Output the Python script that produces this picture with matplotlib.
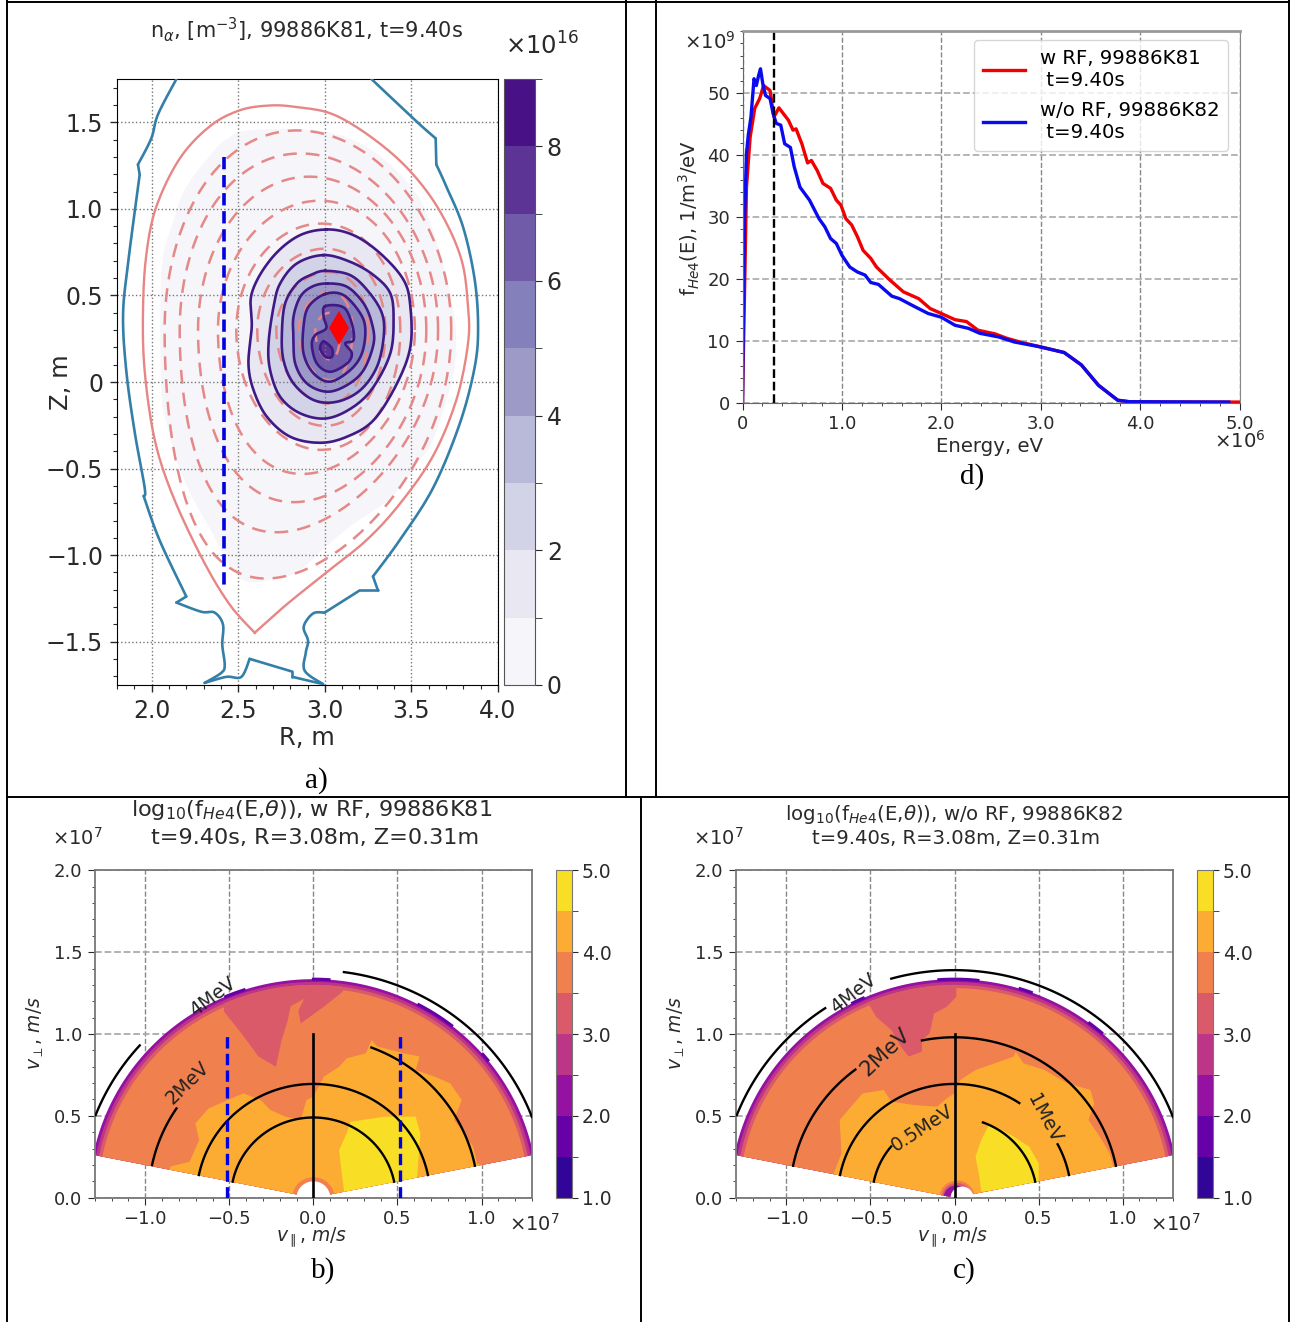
import numpy as np
import matplotlib
matplotlib.use("Agg")
import matplotlib.pyplot as plt
from matplotlib.colors import ListedColormap, BoundaryNorm
from matplotlib.cm import ScalarMappable
from matplotlib.lines import Line2D
from matplotlib.patches import Polygon
from matplotlib.ticker import MultipleLocator

# ---------------- panel a data (R, Z in metres) ----------------
wall_R = [2.143,2.037,1.998,1.921,1.931,1.864,1.835,1.854,1.902,1.960,1.954,2.046,2.200,2.143,2.287,2.364,2.412,2.408,2.422,2.402,2.306,2.431,2.518,2.566,2.813,2.813,2.990,2.884,2.890,2.903,2.878,2.932,2.999,3.201,3.307,3.278,3.432,3.625,3.779,3.865,3.885,3.865,3.798,3.702,3.644,3.640,3.548,3.375,3.269]
wall_Z = [1.75,1.546,1.407,1.256,1.198,.687,.385,.061,-.288,-.612,-.659,-.914,-1.239,-1.274,-1.327,-1.332,-1.401,-1.518,-1.634,-1.680,-1.738,-1.703,-1.703,-1.599,-1.673,-1.703,-1.745,-1.668,-1.564,-1.494,-1.413,-1.337,-1.332,-1.204,-1.204,-1.123,-.914,-.612,-.241,.084,.316,.594,.896,1.128,1.256,1.407,1.488,1.650,1.75]
wall_corners = [0,3,4,10,12,13,20,23,24,25,26,32,33,34,35,44,45,48]
sep_R = [2.595,2.778,3.009,3.240,3.432,3.625,3.760,3.827,3.827,3.788,3.663,3.490,3.278,3.047,2.836,2.682,2.508,2.335,2.162,2.027,1.969,1.950,1.960,2.018,2.123,2.297,2.451,2.595]
sep_Z = [-1.448,-1.286,-1.100,-.914,-.705,-.427,-.102,.223,.432,.710,.989,1.221,1.407,1.546,1.588,1.597,1.569,1.476,1.290,1.012,.733,.408,.061,-.334,-.659,-1.030,-1.286,-1.448]
fill_R = [2.547,2.951,3.240,3.500,3.625,3.740,3.750,3.625,3.548,3.394,3.163,3.009,2.855,2.720,2.508,2.335,2.220,2.143,2.095,2.056,2.056,2.123,2.200,2.374,2.441]
fill_Z = [1.453,1.453,1.360,1.128,.873,.432,.084,-.334,-.450,-.659,-.821,-.949,-1.088,-1.135,-1.135,-.844,-.636,-.450,-.264,-.056,.641,.919,1.128,1.349,1.407]
ring1_R = [3.008,3.166,3.320,3.455,3.494,3.494,3.417,3.282,3.128,2.973,2.800,2.665,2.588,2.559,2.578,2.578,2.684,2.839]
ring1_Z = [.881,.848,.743,.589,.435,.204,-.008,-.220,-.316,-.351,-.316,-.200,-.046,.107,.319,.512,.704,.839]
ring2_R = [2.993,3.147,3.282,3.378,3.397,3.378,3.282,3.166,3.012,2.858,2.742,2.684,2.675,2.704,2.742,2.839]
ring2_Z = [.733,.694,.617,.512,.358,.165,-.027,-.143,-.210,-.181,-.085,.069,.223,.435,.569,.685]
ring3_R = [3.002,3.147,3.253,3.330,3.340,3.301,3.205,3.070,2.935,2.819,2.761,2.752,2.771,2.839,2.916]
ring3_Z = [.642,.617,.521,.396,.261,.088,-.047,-.114,-.104,-.008,.127,.281,.454,.569,.617]
ring4_R = [3.012,3.128,3.224,3.272,3.282,3.224,3.128,3.012,2.896,2.829,2.819,2.819,2.858,2.925]
ring4_Z = [.569,.550,.454,.338,.223,.069,-.018,-.056,-.008,.107,.261,.377,.492,.550]
ring5_R = [3.002,3.108,3.205,3.234,3.214,3.147,3.031,2.935,2.877,2.877,2.906]
ring5_Z = [.508,.502,.396,.300,.165,.069,.002,.050,.165,.319,.435]
ring6_R = [3.002,3.108,3.156,3.166,3.118,3.156,3.128,3.031,2.954,2.925,2.945,3.008,2.993]
ring6_Z = [.438,.431,.338,.242,.223,.165,.107,.059,.107,.213,.271,.310,.377]
ring7_R = [2.993,3.041,3.041,3.002,2.973]
ring7_Z = [.233,.194,.146,.146,.194]
surf_R_in  = [2.075,2.162,2.268,2.383,2.489,2.61,2.72,2.85,2.945]
surf_R_out = [3.73,3.654,3.586,3.52,3.436,3.35,3.25,3.16,3.09]
surf_Z_top = [1.453,1.32,1.186,1.047,.915,.77,.635,.52,.40]
surf_Z_bot = [-1.135,-.868,-.694,-.531,-.392,-.253,-.125,.01,.13]
surf_R_top = [2.84,2.86,2.91,2.97,2.98,3.0,3.02,3.03,3.03]
surf_R_bot = [2.66,2.72,2.82,2.87,2.98,3.0,3.02,3.03,3.03]
Z_mid = 0.30
chord_R = 2.415
chord_Z = [1.30, -1.20]
point_R, point_Z = 3.08, 0.31

# ---------------- panel d data (E in 1e6 eV, f in 1e9) ----------------
red_E = [0,.04,.077,.123,.173,.212,.277,.316,.366,.462,.508,.539,.597,.655,.693,.751,.809,.886,.944,.99,1.04,1.098,1.156,1.213,1.29,1.348,1.483,1.618,1.772,1.888,2.0,2.138,2.253,2.369,2.542,2.658,2.812,3.005,3.236,3.409,3.582,3.775,3.89,4.276,5.0]
red_f = [0,34.8,42.9,47.5,49.1,51.2,50.4,46.1,47.6,45.6,44,44.2,41.8,38.7,39.1,37.5,35.4,34.6,32.7,31.9,29.7,28.7,26.8,24.6,23.3,21.9,19.8,17.9,16.8,15.2,14.4,13.4,13.1,11.7,11.1,10.4,9.7,9.0,8.1,6.1,2.8,.4,.16,.1,.1]
blue_E = [0,.02,.04,.058,.085,.116,.139,.162,.181,.204,.231,.277,.308,.339,.385,.424,.482,.52,.578,.674,.77,.828,.886,.944,1.0,1.079,1.156,1.233,1.29,1.367,1.502,1.579,1.733,1.868,2.0,2.138,2.273,2.388,2.581,2.735,2.966,3.236,3.409,3.582,3.775,3.89,4.892]
blue_f = [0,29.5,40.2,43.2,46.1,52.3,51.2,52.8,53.9,51.5,49.6,49.1,46.7,45.1,44.8,41.8,41.2,38.1,34.8,32.7,29.7,28.4,26.5,25.7,23.8,21.9,21.1,20.6,19.4,19.1,17.2,16.8,15.5,14.4,13.8,12.5,12.0,11.2,10.6,9.8,9.1,8.1,6.1,2.8,.4,.16,.1]
E_marker = 0.316

# ---------------- panels b, c data (v in 1e7 m/s) ----------------
fan_radius = 1.335
fan_cut_deg = 11.3
b_pink_x = [-.54,-.531,-.428,-.326,-.223,-.189,-.155,-.135,-.055,-.09,-.075,.062,.175,.19,-.54]
b_pink_y = [1.32,1.136,1.004,.862,.800,.963,1.075,1.17,1.215,1.14,1.065,1.167,1.259,1.40,1.40]
b_orange_x = [-.85,-.736,-.679,-.702,-.622,-.531,-.417,-.314,-.257,-.166,-.075,-.041,0,.062,.153,.198,.312,.346,.380,.540,.631,.608,.722,.813,.882,.836,.882,.950,.973,1.018,1.05,-.9]
b_orange_y = [.19,.22,.352,.454,.546,.587,.637,.597,.536,.495,.475,.597,.617,.739,.800,.851,.882,.963,.923,.882,.862,.780,.739,.699,.597,.475,.413,.312,.210,.19,-.05,-.05]
b_yellow_x = [.221,.426,.608,.636,.62,.61,.187,.171,.153,.198]
b_yellow_y = [.464,.495,.495,.393,.169,.05,.006,.128,.291,.393]
c_pink_x = [-.513,-.467,-.376,-.319,-.273,-.194,-.194,-.148,-.121,-.046,.011,.011,.011,-.52]
c_pink_y = [1.187,1.106,1.024,.923,.862,.892,.963,1.004,1.126,1.167,1.228,1.33,1.41,1.41]
c_orange_x = [-.718,-.672,-.683,-.547,-.421,-.376,-.239,-.103,-.046,0,.034,.125,.239,.353,.364,.41,.535,.672,.809,.831,.797,.877,.923,.945,1.014,1.05,-.8]
c_orange_y = [.149,.271,.475,.637,.658,.587,.566,.556,.607,.637,.719,.78,.821,.862,.892,.821,.78,.699,.658,.576,.475,.352,.271,.19,.19,-.05,-.05]
c_yellow_x = [.159,.125,.148,.159,.501,.501,.444,.353,.262,.205]
c_yellow_y = [.352,.25,.128,.037,.08,.21,.312,.373,.424,.444]
b_spot_from = [108,86,52,39]
b_spot_to = [113,90,62,41]
c_spot_from = [114,84,70,49]
c_spot_to = [117,94,73,53]
rim_radii = [1.335,1.318,1.30,1.28]
rim_bands = [2,3,4,5]
b_arcs = [(.49,11.5,168.5),(.695,11.5,168.5),(.98,11.5,69.4),(.98,146.2,168.2),(1.39,20.8,82.5),(1.39,138,158.7)]
c_arcs = [(.49,140.3,168.5),(.49,11.5,69.8),(.695,56.3,168.5),(.695,11.5,28),(.98,11.5,101.4),(.98,127,168.5),(1.39,20.8,105.7),(1.39,123.6,158.7)]
b_chords = [-.515,.517]

density_levels = list(range(0,10))
log_levels = [1,1.5,2,2.5,3,3.5,4,4.5,5]

W,H = 1301,1322
fig = plt.figure(figsize=(W/100,H/100),dpi=100,facecolor="white")
TXT = "#2a2a2a"

def axpx(x0,y0,x1,y1):
    return fig.add_axes([x0/W,1-y1/H,(x1-x0)/W,(y1-y0)/H])
def ftext(x,y,s,**k):
    k.setdefault("ha","center");k.setdefault("va","center");k.setdefault("color",TXT)
    return fig.text(x/W,1-y/H,s,**k)

def smooth(x,y,closed=True,n=10):
    p=np.column_stack([x,y]).astype(float)
    if closed:
        P=np.vstack([p[-1],p,p[0],p[1]])
    else:
        P=np.vstack([p[0],p,p[-1]])
    out=[]
    t=np.linspace(0,1,n,endpoint=False)[:,None]
    for i in range(1,len(P)-2):
        a,b,c,d=P[i-1],P[i],P[i+1],P[i+2]
        out.append(.5*((2*b)+(-a+c)*t+(2*a-5*b+4*c-d)*t**2+(-a+3*b-3*c+d)*t**3))
    out=np.vstack(out+[P[-2][None,:]])
    return out[:,0],out[:,1]

def surface(Rin,Rout,Ztop,Zbot,Rtop,Rbot):
    Rc=.5*(Rin+Rout);a=.5*(Rout-Rin)
    t=np.linspace(0,np.pi,80)
    du=np.arcsin(np.clip((Rc-Rtop)/a,-.95,.95));dl=np.arcsin(np.clip((Rc-Rbot)/a,-.95,.95))
    Ru=Rc+a*np.cos(t+du*np.sin(t));Zu=Z_mid+(Ztop-Z_mid)*np.sin(t)
    Rl=Rc+a*np.cos(t+dl*np.sin(t));Zl=Z_mid+(Zbot-Z_mid)*np.sin(t)
    return np.r_[Ru,Rl[::-1]],np.r_[Zu,Zl[::-1]]

# ---- lines of the surrounding table ----
for (x0,y0,x1,y1) in [(7,2,1289,2),(7,796.5,1289,796.5),(7,0,7,1322),(1289,0,1289,1322),(626,0,626,797),(656,0,656,797),(641,797,641,1322)]:
    fig.add_artist(Line2D([x0/W,x1/W],[1-y0/H,1-y1/H],color="black",lw=1.4,transform=fig.transFigure))

# ---- panel a ----
ax=axpx(117,79,498,685)
ax.set_xlim(1.8,4.0);ax.set_ylim(-1.75,1.75)
n=len(density_levels)-1
dcols=[plt.get_cmap("Purples")((i+.5)/n) for i in range(n)]
ax.grid(True,which="major",color="#777",ls=":",lw=1)
fx,fy=smooth(fill_R,fill_Z,n=4)
ax.fill(fx,fy,color=dcols[0],lw=0,zorder=1)
rings=[(ring1_R,ring1_Z),(ring2_R,ring2_Z),(ring3_R,ring3_Z),(ring4_R,ring4_Z),(ring5_R,ring5_Z),(ring6_R,ring6_Z),(ring7_R,ring7_Z)]
for i,(rx,rz) in enumerate(rings):
    sx,sz=smooth(rx,rz)
    ax.fill(sx,sz,color=dcols[i+1],lw=0,zorder=1.1+i*.01)
for v in zip(surf_R_in,surf_R_out,surf_Z_top,surf_Z_bot,surf_R_top,surf_R_bot):
    sx,sz=surface(*v)
    ax.plot(sx,sz,color="#e58888",lw=1.8,dashes=(5.5,3.6),zorder=2.6)
for rx,rz in rings:
    sx,sz=smooth(rx,rz)
    ax.plot(sx,sz,color="#3f1a85",lw=1.9,zorder=3)
for i0,i1 in zip(wall_corners[:-1],wall_corners[1:]):
    sx,sz=smooth(wall_R[i0:i1+1],wall_Z[i0:i1+1],closed=False)
    ax.plot(sx,sz,color="#347fa8",lw=1.9,zorder=3,solid_capstyle="round")
sx,sz=smooth(sep_R,sep_Z,closed=False)
ax.plot(sx,sz,color="#e88585",lw=1.7,zorder=3)
ax.plot([chord_R,chord_R],chord_Z,color="#0000e0",lw=2.6,dashes=(3.4,1.6),zorder=4)
ax.plot([point_R],[point_Z],marker="d",color="red",ms=17,mew=0,zorder=5)
ax.set_xticks([2,2.5,3,3.5,4]);ax.set_yticks([-1.5,-1,-.5,0,.5,1,1.5])
ax.set_yticklabels(["\u22121.5","\u22121.0","\u22120.5","0","0.5","1.0","1.5"])
ax.set_xticklabels(["2.0","2.5","3.0","3.5","4.0"])
ax.xaxis.set_minor_locator(MultipleLocator(.1));ax.yaxis.set_minor_locator(MultipleLocator(.1))
ax.tick_params(which="major",labelsize=17,length=5,width=1,colors=TXT,pad=5)
ax.tick_params(which="minor",length=3,width=.8,colors=TXT)
cax=axpx(504,79,535,685)
cb=fig.colorbar(ScalarMappable(BoundaryNorm(density_levels,n),ListedColormap(dcols)),cax=cax,ticks=[0,2,4,6,8],drawedges=False)
cb.ax.minorticks_off()
cb.ax.set_yticks(range(1,10,2),minor=True)
cb.ax.set_yticklabels(["0","2","4","6","8"])
cb.ax.tick_params(which="major",labelsize=17,length=5,colors=TXT)
cb.ax.tick_params(which="minor",length=5,colors=TXT)
cb.outline.set_edgecolor("#555")
ftext(307,30,r"n$_{\alpha}$, [m$^{-3}$], 99886K81, t=9.40s",fontsize=15)
ftext(542,46,r"$\times$10$^{16}$",fontsize=17.5)
ftext(307,738,"R, m",fontsize=17.5)
ftext(61,382,"Z, m",fontsize=17.5,rotation=90)

# ---- panel d ----
ax=axpx(742.5,31,1239.5,402.7)
ax.set_xlim(0,5);ax.set_ylim(0,60)
ax.xaxis.grid(True,which="major",color="#888",ls="--",lw=1)
ax.yaxis.grid(True,which="major",color="#b0b0b0",ls="--",lw=1.3)
ax.plot(red_E,red_f,color="#f00000",lw=2.4,label="w RF, 99886K81\n t=9.40s")
ax.plot(blue_E,blue_f,color="#0a0af0",lw=2.4,label="w/o RF, 99886K82\n t=9.40s")
ax.axvline(E_marker,color="black",ls="--",lw=1.7)
ax.set_xticks([0,1,2,3,4,5]);ax.set_xticklabels(["0","1.0","2.0","3.0","4.0","5.0"])
ax.set_yticks([0,10,20,30,40,50]);ax.set_yticklabels(["0","10","20","30","40","50"])
ax.xaxis.set_minor_locator(MultipleLocator(.2));ax.yaxis.set_minor_locator(MultipleLocator(2))
ax.tick_params(which="major",labelsize=13,length=5,colors=TXT,pad=4)
ax.tick_params(which="minor",length=2.5,colors=TXT)
for s in ax.spines.values(): s.set_color("#666")
ax.spines["top"].set_color("#999");ax.spines["top"].set_linewidth(2)
ax.spines["right"].set_color("#888")
ax.legend(loc="upper right",bbox_to_anchor=(.977,.976),fontsize=14.2,framealpha=.8,borderaxespad=0,handlelength=2.1,labelspacing=.55,borderpad=.45,handletextpad=.75)
ftext(990,446,"Energy, eV",fontsize=14.2)
ftext(689,218,r"f$_{He4}$(E), 1/m$^3$/eV",fontsize=14,rotation=90)
ftext(710,42,r"$\times$10$^{9}$",fontsize=14.2)
ftext(1240,441,r"$\times$10$^{6}$",fontsize=14.2)

# ---- panels b, c ----
m=len(log_levels)-1
pcols=[plt.get_cmap("plasma")((i+.5)/m) for i in range(m)]

def fan_poly(r):
    th=np.radians(np.linspace(fan_cut_deg,180-fan_cut_deg,200))
    return np.c_[r*np.cos(th),r*np.sin(th)]

def arc(ax,r,a,b,**k):
    th=np.radians(np.linspace(a,b,120))
    ax.plot(r*np.cos(th),r*np.sin(th),**k)

def panel(box,cbox,pink,orange,yellow,spots,arcs,labels,chords,hole):
    ax=axpx(*box)
    ax.set_xlim(-1.3,1.3);ax.set_ylim(0,2)
    ax.xaxis.grid(True,which="major",color="#888",ls="--",lw=1,zorder=0)
    ax.yaxis.grid(True,which="major",color="#aaa",ls="--",lw=1.3,zorder=0)
    ax.set_axisbelow(True)
    clip=Polygon(np.vstack([fan_poly(rim_radii[-2]),[[0,0]]]),transform=ax.transData)
    clip_low=Polygon(np.vstack([fan_poly(fan_radius),[[0,0]]]),transform=ax.transData)
    for r,i in zip(rim_radii,rim_bands):
        p=np.vstack([fan_poly(r),[[0,0]]])
        ax.fill(p[:,0],p[:,1],color=pcols[i],lw=0,zorder=1)
    for (xs,ys),i in zip([pink,orange,yellow],[4,6,7]):
        h,=ax.fill(xs,ys,color=pcols[i],lw=0,zorder=1.5)
        h.set_clip_path(clip)
    for a,b in spots:
        arc(ax,fan_radius,a,b,color=pcols[1],lw=2.2,zorder=2)
    th=np.linspace(0,2*np.pi,100)
    for cx,r,c in hole:
        h,=ax.fill(cx+r*np.cos(th),r*np.sin(th),color=pcols[c] if c>=0 else "white",lw=0,zorder=2.2)
        if c>=0: h.set_clip_path(clip_low)
    for r,a,b in arcs:
        arc(ax,r,a,b,color="black",lw=1.7,zorder=3)
    ax.plot([0,0],[0,1.0],color="black",lw=1.9,zorder=3)
    for x in chords:
        ax.plot([x,x],[0,.99],color="#0000e0",lw=2.4,dashes=(3.4,1.6),zorder=4)
    for x,y,s,rot,fs in labels:
        ax.text(x,y,s,rotation=rot,rotation_mode="anchor",ha="center",va="center",fontsize=fs,color="#222",zorder=5)
    ax.set_xticks([-1,-.5,0,.5,1]);ax.set_xticklabels(["\u22121.0","\u22120.5","0.0","0.5","1.0"])
    ax.set_yticks([0,.5,1,1.5,2]);ax.set_yticklabels(["0.0","0.5","1.0","1.5","2.0"])
    ax.xaxis.set_minor_locator(MultipleLocator(.1));ax.yaxis.set_minor_locator(MultipleLocator(.1))
    ax.tick_params(which="major",labelsize=13,length=5,colors=TXT,pad=4)
    ax.tick_params(which="minor",length=2.5,colors=TXT)
    for s in ax.spines.values(): s.set_color("#777");s.set_linewidth(1.3)
    cax=axpx(*cbox)
    cb=fig.colorbar(ScalarMappable(BoundaryNorm(log_levels,m),ListedColormap(pcols)),cax=cax,ticks=[1,2,3,4,5])
    cb.ax.minorticks_off()
    cb.ax.set_yticks([1.5,2.5,3.5,4.5],minor=True)
    cb.ax.set_yticklabels(["1.0","2.0","3.0","4.0","5.0"])
    cb.ax.tick_params(which="major",labelsize=13.5,length=4,colors=TXT,pad=3)
    cb.ax.tick_params(which="minor",length=4,colors=TXT)
    cb.outline.set_edgecolor("#777")

panel((94.8,870.3,532,1197.7),(555.7,870.3,572,1197.7),
      (b_pink_x,b_pink_y),(b_orange_x,b_orange_y),(b_yellow_x,b_yellow_y),
      list(zip(b_spot_from,b_spot_to)),b_arcs,
      [(-.747,.699,"2MeV",44,13.5),(-.6,1.228,"4MeV",37,13.5)],b_chords,
      [(0,.125,5),(0,.1,-1)])
panel((736,870.3,1173,1197.7),(1196.8,870.3,1213.3,1197.7),
      (c_pink_x,c_pink_y),(c_orange_x,c_orange_y),(c_yellow_x,c_yellow_y),
      list(zip(c_spot_from,c_spot_to)),c_arcs,
      [(-.41,.892,"2MeV",43,15.5),(-.604,1.248,"4MeV",38,13.5),(-.194,.424,"0.5MeV",33,13.5),(.535,.485,"1MeV",-62,13.5)],[],
      [(.015,.105,5),(.015,.09,4),(.01,.075,2),(.045,.068,-1)])

ftext(312,810,r"log$_{10}$(f$_{He4}$(E,$\theta$)), w RF, 99886K81",fontsize=16.1)
ftext(315,838,"t=9.40s, R=3.08m, Z=0.31m",fontsize=16.1)
ftext(954,815,r"log$_{10}$(f$_{He4}$(E,$\theta$)), w/o RF, 99886K82",fontsize=14.2)
ftext(956,839,"t=9.40s, R=3.08m, Z=0.31m",fontsize=14.1)
for x,y in [(77,838),(534,1224),(718,838),(1175,1224)]:
    ftext(x,y,r"$\times$10$^{7}$",fontsize=14)
for x0 in [0,641]:
    ftext(312+x0,1238,r"$v_{\parallel}$, $m/s$",fontsize=13.5)
    ftext(35+x0,1033,r"$v_{\perp}$, $m/s$",fontsize=13.5,rotation=90)

serif=dict(family="Liberation Serif",fontsize=21,color="black")
ftext(316,781,"a)",**serif)
ftext(972,477,"d)",**serif)
ftext(323,1271,"b)",**serif)
ftext(964,1271,"c)",**serif)

fig.savefig("out.png",dpi=100,facecolor="white")
